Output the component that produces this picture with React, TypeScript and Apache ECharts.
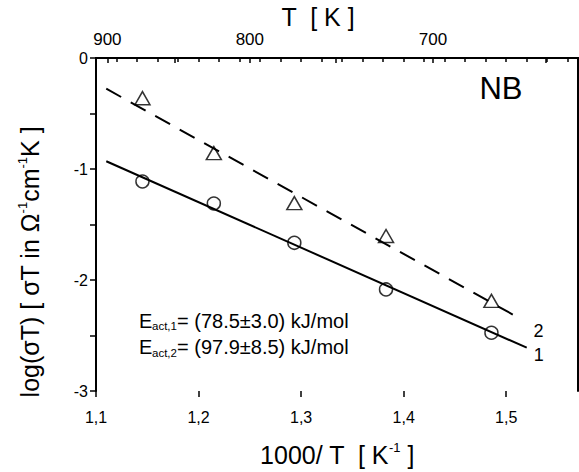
import React, { useEffect, useRef } from "react";
import * as echarts from "echarts";

// 1000/T positions of the measured points (T = 873, 823, 773, 723, 673 K)
const xValues = [1.1453, 1.2149, 1.2934, 1.3828, 1.4856];
// series 1 (circles) and series 2 (triangles): log(sigma T)
const series1Y = [-1.113, -1.311, -1.665, -2.085, -2.475];
const series2Y = [-0.362, -0.857, -1.307, -1.604, -2.188];
// fitted lines (end points)
const fit1 = [
  [1.11, -0.93],
  [1.52, -2.61],
];
const fit2 = [
  [1.11, -0.277],
  [1.515, -2.355],
];
// axis ticks
const bottomMajorTicks = [1.1, 1.2, 1.3, 1.4, 1.5];
const bottomMinorTicks = [
  1.1, 1.12, 1.14, 1.16, 1.18, 1.2, 1.22, 1.24, 1.26, 1.28, 1.3, 1.32, 1.34,
  1.36, 1.38, 1.4, 1.42, 1.44, 1.46, 1.48, 1.5, 1.52, 1.54, 1.56,
];
const topTickT = [900, 850, 800, 750, 700, 650];
const topLabelT = [900, 800, 700];
const seriesNames = ["1", "2"];

const FONT = "'Liberation Sans', Arial, Helvetica, sans-serif";

export default function App() {
  const ref = useRef<HTMLDivElement>(null);

  useEffect(() => {
    if (!ref.current) return;
    const chart = echarts.init(ref.current, undefined, { renderer: "svg" });
    const black = "#000";
    const xMin = 1.1;
    const xMax = 1.57;

    const option: any = {
      animation: false,
      backgroundColor: "#fff",
      textStyle: { fontFamily: FONT, color: black },
      grid: { left: 96, right: 1, top: 58, bottom: 81 },
      xAxis: [
        {
          type: "value",
          position: "bottom",
          min: xMin,
          max: xMax,
          axisLine: { show: true, lineStyle: { color: black, width: 2 } },
          axisTick: {
            show: true,
            customValues: bottomMinorTicks,
            length: 4,
            inside: false,
            lineStyle: { color: black, width: 1.5 },
          },
          axisLabel: {
            customValues: bottomMajorTicks,
            formatter: (v: number) => v.toFixed(1).replace(".", ","),
            margin: 18,
            fontSize: 16,
            color: black,
            fontFamily: FONT,
          },
          splitLine: { show: false },
        },
        {
          type: "value",
          position: "top",
          min: xMin,
          max: xMax,
          axisLine: { show: true, lineStyle: { color: black, width: 2 } },
          axisTick: {
            show: true,
            customValues: topTickT.map((t) => 1000 / t),
            length: 5,
            inside: true,
            lineStyle: { color: black, width: 1.5 },
          },
          axisLabel: {
            customValues: topLabelT.map((t) => 1000 / t),
            formatter: (v: number) => String(Math.round(1000 / v)),
            margin: 10,
            fontSize: 17,
            color: black,
            fontFamily: FONT,
          },
          splitLine: { show: false },
        },
        {
          type: "value",
          position: "bottom",
          min: xMin,
          max: xMax,
          axisLine: { show: false },
          axisTick: {
            show: true,
            customValues: bottomMajorTicks,
            length: 6,
            inside: false,
            lineStyle: { color: black, width: 1.5 },
          },
          axisLabel: { show: false },
          splitLine: { show: false },
        },
      ],
      yAxis: [
        {
          type: "value",
          position: "left",
          min: -3,
          max: 0,
          interval: 0.5,
          axisLine: { show: true, lineStyle: { color: black, width: 2 } },
          axisTick: {
            show: true,
            length: 6,
            inside: false,
            lineStyle: { color: black, width: 1.5 },
          },
          axisLabel: {
            formatter: (v: number) => (Number.isInteger(v) ? String(v) : ""),
            margin: 8,
            fontSize: 16,
            color: black,
            fontFamily: FONT,
          },
          splitLine: { show: false },
        },
        {
          type: "value",
          position: "right",
          min: -3,
          max: 0,
          interval: 0.5,
          axisLine: { show: true, lineStyle: { color: black, width: 2 } },
          axisTick: { show: false },
          axisLabel: { show: false },
          splitLine: { show: false },
        },
      ],
      series: [
        {
          type: "line",
          name: "fit1",
          data: fit1,
          xAxisIndex: 0,
          yAxisIndex: 0,
          symbol: "none",
          lineStyle: { color: black, width: 2, type: "solid" },
          endLabel: {
            show: true,
            formatter: seriesNames[0],
            distance: 7,
            offset: [0, 7],
            fontSize: 18,
            color: black,
            fontFamily: FONT,
          },
          silent: true,
        },
        {
          type: "line",
          name: "fit2",
          data: fit2,
          xAxisIndex: 0,
          yAxisIndex: 0,
          symbol: "none",
          lineStyle: { color: black, width: 2, type: [17, 11] },
          endLabel: {
            show: true,
            formatter: seriesNames[1],
            distance: 12,
            offset: [0, 12],
            fontSize: 18,
            color: black,
            fontFamily: FONT,
          },
          silent: true,
        },
        {
          type: "scatter",
          name: "circles",
          data: xValues.map((x, i) => [x, series1Y[i]]),
          xAxisIndex: 0,
          yAxisIndex: 0,
          symbol: "circle",
          symbolSize: 13,
          itemStyle: {
            color: "transparent",
            borderColor: black,
            borderWidth: 1.5,
          },
        },
        {
          type: "scatter",
          name: "triangles",
          data: xValues.map((x, i) => [x, series2Y[i]]),
          xAxisIndex: 0,
          yAxisIndex: 0,
          symbol: "triangle",
          symbolSize: [15, 13],
          itemStyle: {
            color: "transparent",
            borderColor: black,
            borderWidth: 1.5,
          },
        },
      ],
      graphic: [
        {
          type: "text",
          x: 318,
          y: 17,
          style: {
            text: "T  [ K ]",
            fontSize: 25,
            fontFamily: FONT,
            fill: black,
            align: "center",
            verticalAlign: "middle",
          },
        },
        {
          type: "text",
          x: 501,
          y: 88.5,
          style: {
            text: "NB",
            fontSize: 31,
            fontFamily: FONT,
            fill: black,
            align: "center",
            verticalAlign: "middle",
          },
        },
        {
          type: "text",
          x: 30,
          y: 262,
          rotation: Math.PI / 2,
          style: {
            text: "{a|log(σT) [ σT in Ω}{s|-1}{a|cm}{s|-1}{a|K ]}",
            align: "center",
            verticalAlign: "middle",
            rich: {
              a: { fontSize: 25, fontFamily: FONT, fill: black, lineHeight: 28 },
              s: {
                fontSize: 13,
                fontFamily: FONT,
                fill: black,
                lineHeight: 16,
                verticalAlign: "top",
              },
            },
          },
        },
        {
          type: "text",
          x: 337,
          y: 455,
          style: {
            text: "{a|1000/ T  [ K}{s|-1}{a| ]}",
            align: "center",
            verticalAlign: "middle",
            rich: {
              a: { fontSize: 25, fontFamily: FONT, fill: black, lineHeight: 28 },
              s: {
                fontSize: 13,
                fontFamily: FONT,
                fill: black,
                lineHeight: 16,
                verticalAlign: "top",
              },
            },
          },
        },
        // activation energies
        {
          type: "text",
          x: 139,
          y: 320.5,
          style: { text: "E", fontSize: 20, fontFamily: FONT, fill: black, align: "left", verticalAlign: "middle" },
        },
        {
          type: "text",
          x: 152,
          y: 326,
          style: { text: "act,1", fontSize: 11.5, fontFamily: FONT, fill: black, align: "left", verticalAlign: "middle" },
        },
        {
          type: "text",
          x: 177,
          y: 320.5,
          style: { text: "= (78.5±3.0) kJ/mol", fontSize: 20, fontFamily: FONT, fill: black, align: "left", verticalAlign: "middle" },
        },
        {
          type: "text",
          x: 139,
          y: 346.5,
          style: { text: "E", fontSize: 20, fontFamily: FONT, fill: black, align: "left", verticalAlign: "middle" },
        },
        {
          type: "text",
          x: 152,
          y: 352.5,
          style: { text: "act,2", fontSize: 11.5, fontFamily: FONT, fill: black, align: "left", verticalAlign: "middle" },
        },
        {
          type: "text",
          x: 177,
          y: 346.5,
          style: { text: "= (97.9±8.5) kJ/mol", fontSize: 20, fontFamily: FONT, fill: black, align: "left", verticalAlign: "middle" },
        },
      ],
    };

    chart.setOption(option);
    return () => chart.dispose();
  }, []);

  return (
    <div
      ref={ref}
      style={{ position: "fixed", left: 0, top: 0, width: 579, height: 472, background: "#fff" }}
    />
  );
}
